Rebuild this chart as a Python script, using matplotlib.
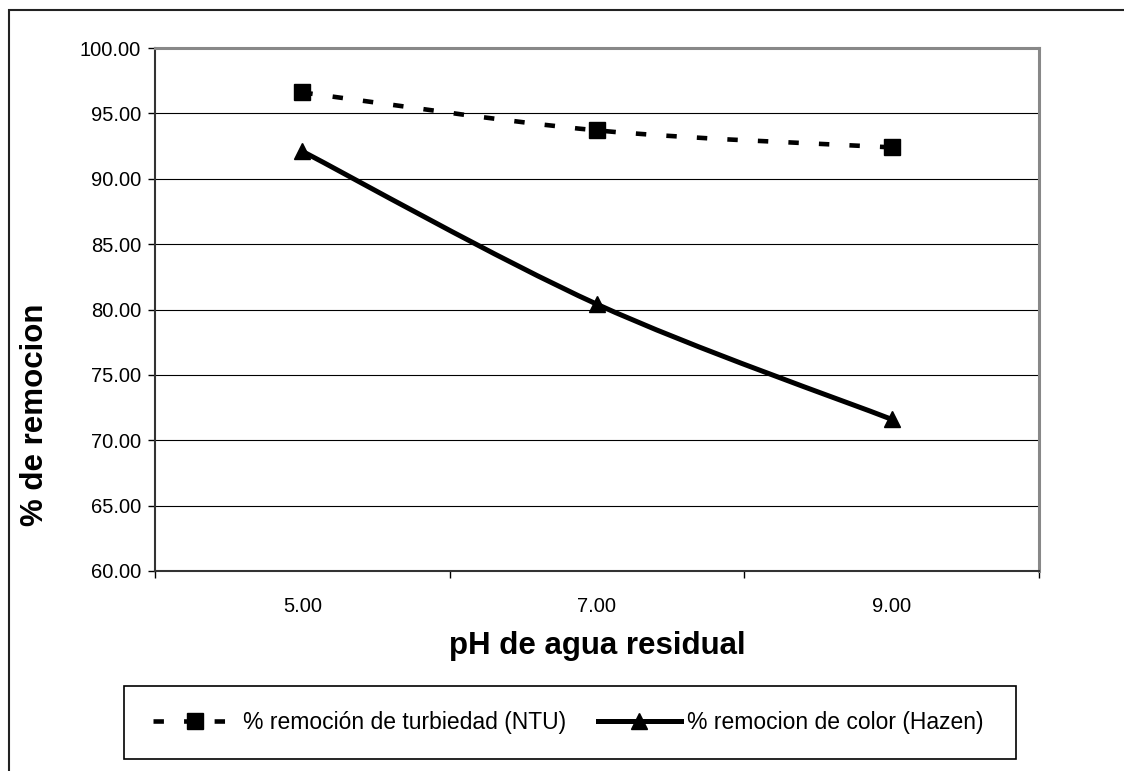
import numpy as np
import matplotlib.pyplot as plt
from matplotlib.path import Path
from matplotlib.patches import PathPatch, Rectangle
from matplotlib.lines import Line2D

plt.rcParams['font.family'] = ['Liberation Sans', 'DejaVu Sans']
plt.rcParams['lines.scale_dashes'] = False

# Data
ph_labels = ['5.00', '7.00', '9.00']
turbiedad = [96.6, 93.7, 92.4]
color_hazen = [92.1, 80.4, 71.6]
y_ticks = [60, 65, 70, 75, 80, 85, 90, 95, 100]


def smooth_path(ys):
    # Excel-style smoothed line (Catmull-Rom -> cubic bezier)
    pts = np.column_stack([np.arange(len(ys)), ys]).astype(float)
    ext = np.vstack([pts[0], pts, pts[-1]])
    verts = [pts[0]]
    codes = [Path.MOVETO]
    for i in range(len(pts) - 1):
        p0, p1, p2, p3 = ext[i], ext[i + 1], ext[i + 2], ext[i + 3]
        verts += [p1 + (p2 - p0) / 6, p2 - (p3 - p1) / 6, p2]
        codes += [Path.CURVE4] * 3
    return Path(verts, codes)


W, H = 1124, 771
fig = plt.figure(figsize=(W / 100, H / 100), dpi=100)
ax = fig.add_axes([155 / W, 1 - 571 / H, 884 / W, 523 / H])

x = np.arange(len(ph_labels))
dash = (0, (7.5, 14.5))

# turbidity: dashed with squares
ax.add_patch(PathPatch(smooth_path(turbiedad), fill=False, edgecolor='black',
                       lw=3.3, linestyle=dash, capstyle='butt', zorder=3))
ax.plot(x, turbiedad, linestyle='none', marker='s', markersize=11,
        color='black', zorder=4)

# color: solid with triangles
ax.add_patch(PathPatch(smooth_path(color_hazen), fill=False, edgecolor='black',
                       lw=3.6, capstyle='butt', zorder=3))
ax.plot(x, color_hazen, linestyle='none', marker='^', markersize=12,
        color='black', zorder=4)

ax.set_xlim(-0.5, len(ph_labels) - 0.5)
ax.set_ylim(60, 100)

ax.set_yticks(y_ticks)
ax.set_yticklabels([f'{v:.2f}' for v in y_ticks])
ax.yaxis.grid(True, color='black', lw=0.8)
ax.set_axisbelow(True)

ax.set_xticks(x)
ax.set_xticklabels(ph_labels)
ax.set_xticks(np.arange(-0.5, len(ph_labels)), minor=True)
ax.tick_params(axis='x', which='major', length=0, pad=19, labelsize=14.5)
ax.tick_params(axis='x', which='minor', length=5, width=1, direction='out')
ax.tick_params(axis='y', length=5, width=1, direction='out', pad=5, labelsize=14.5)

for s in ['left', 'bottom']:
    ax.spines[s].set_color('#333333')
    ax.spines[s].set_linewidth(1.5)
for s in ['top', 'right']:
    ax.spines[s].set_color('#888888')
    ax.spines[s].set_linewidth(2.2)

ax.set_xlabel('pH de agua residual', fontsize=22.5, fontweight='bold')
ax.xaxis.set_label_coords(0.5, (571 - 646) / 523)
ax.xaxis.label.set_va('center')
ax.set_ylabel('% de remocion', fontsize=22.5, fontweight='bold')
ax.yaxis.set_label_coords((35 - 155) / 884, (571 - 415) / 523)
ax.yaxis.label.set_va('center')

# outer chart frame (runs off the picture at right and bottom)
fig.add_artist(Rectangle((9 / W, -0.1), 1.2, 1.1 - 10 / H, transform=fig.transFigure,
                         fill=False, edgecolor='#222222', lw=1.5))

# legend box
fig.add_artist(Rectangle((124 / W, 1 - 759 / H), 892 / W, 73 / H,
                         transform=fig.transFigure, fill=False,
                         edgecolor='black', lw=1.2))
handles = [
    Line2D([], [], color='black', lw=3.3, linestyle=dash, marker='s',
           markersize=11, dash_capstyle='butt'),
    Line2D([], [], color='black', lw=3.6, marker='^', markersize=12),
]
labels = ['% remoción de turbiedad (NTU)', '% remocion de color (Hazen)']
fig.legend(handles, labels, loc='center left', bbox_to_anchor=(142 / W, 1 - 722.5 / H),
           frameon=False, ncol=2, fontsize=16.5, handlelength=3.6, borderpad=0,
           handletextpad=0.3, columnspacing=1.4)

fig.savefig('out.png', dpi=100)
